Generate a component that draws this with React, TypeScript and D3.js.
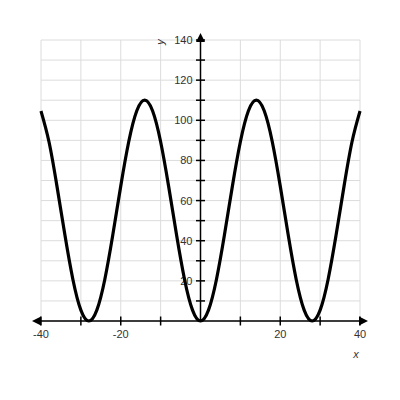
import React from 'react';
import * as d3 from 'd3';

// curve, every 2 units of x
const xValues = [
  -40, -38, -36, -34, -32, -30, -28, -26, -24, -22, -20, -18, -16, -14, -12, -10, -8, -6, -4, -2,
  0, 2, 4, 6, 8, 10, 12, 14, 16, 18, 20, 22, 24, 26, 28, 30, 32, 34, 36, 38, 40,
];
const yValues = [
  104.6, 89.3, 67.2, 42.8, 20.7, 5.4, 0, 5.4, 20.7, 42.8, 67.2, 89.3, 104.6, 110, 104.6, 89.3, 67.2, 42.8, 20.7, 5.4,
  0, 5.4, 20.7, 42.8, 67.2, 89.3, 104.6, 110, 104.6, 89.3, 67.2, 42.8, 20.7, 5.4, 0, 5.4, 20.7, 42.8, 67.2, 89.3, 104.6,
];
const xGrid = [-40, -30, -20, -10, 0, 10, 20, 30, 40];
const yGrid = [0, 10, 20, 30, 40, 50, 60, 70, 80, 90, 100, 110, 120, 130, 140];
const xLabels = [-40, -20, 20, 40];
const yLabels = [20, 40, 60, 80, 100, 120, 140];

const W = 400;
const H = 400;

export default function App() {
  const x = d3.scaleLinear().domain([-40, 40]).range([41, 360]);
  const y = d3.scaleLinear().domain([0, 140]).range([321, 40]);
  const x0 = x(0);
  const y0 = y(0);

  const pts: [number, number][] = xValues.map((v, i) => [v, yValues[i]]);
  const line = d3
    .line<[number, number]>()
    .x(d => x(d[0]))
    .y(d => y(d[1]))
    .curve(d3.curveNatural);

  const font = 'Arial, "Liberation Sans", sans-serif';

  return (
    <div style={{ position: 'absolute', left: 0, top: 0, width: W, height: H, background: '#fff' }}>
      <svg width={W} height={H} style={{ display: 'block' }}>
        <g stroke="#dcdcdc" strokeWidth={1}>
          {xGrid.map(v => (
            <line key={'gx' + v} x1={x(v)} x2={x(v)} y1={y(0)} y2={y(140)} />
          ))}
          {yGrid.map(v => (
            <line key={'gy' + v} x1={x(-40)} x2={x(40)} y1={y(v)} y2={y(v)} />
          ))}
        </g>

        {/* axes */}
        <g stroke="#000" strokeWidth={1.5}>
          <line x1={36} x2={364} y1={y0} y2={y0} />
          <line x1={x0} x2={x0} y1={y0} y2={37} />
          {xGrid.filter(v => v !== 0).map(v => (
            <line key={'tx' + v} x1={x(v)} x2={x(v)} y1={y0 - 4.5} y2={y0 + 4.5} />
          ))}
          {yGrid.filter(v => v !== 0).map(v => (
            <line key={'ty' + v} x1={x0 - 4.5} x2={x0 + 4.5} y1={y(v)} y2={y(v)} />
          ))}
        </g>
        <g fill="#000">
          <path d={`M${32},${y0} L${41},${y0 - 4.5} L${41},${y0 + 4.5} Z`} />
          <path d={`M${368},${y0} L${359},${y0 - 4.5} L${359},${y0 + 4.5} Z`} />
          <path d={`M${x0},${33} L${x0 - 4.5},${42} L${x0 + 4.5},${42} Z`} />
        </g>

        <g fontFamily={font} fontSize={11} fill="#333">
          {yLabels.map(v => (
            <text key={'ly' + v} x={x0 - 8} y={y(v)} dy="0.36em" textAnchor="end">
              {v}
            </text>
          ))}
          {xLabels.map(v => (
            <text key={'lx' + v} x={x(v)} y={y0 + 17} textAnchor="middle">
              {v}
            </text>
          ))}
          <text x={356} y={358} textAnchor="middle" fontStyle="italic">
            x
          </text>
          <text
            x={0}
            y={0}
            textAnchor="middle"
            fontStyle="italic"
            transform={`translate(164,42) rotate(-90)`}
          >
            y
          </text>
        </g>

        <path d={line(pts) ?? ''} fill="none" stroke="#000" strokeWidth={3.2} strokeLinejoin="round" />
      </svg>
    </div>
  );
}
